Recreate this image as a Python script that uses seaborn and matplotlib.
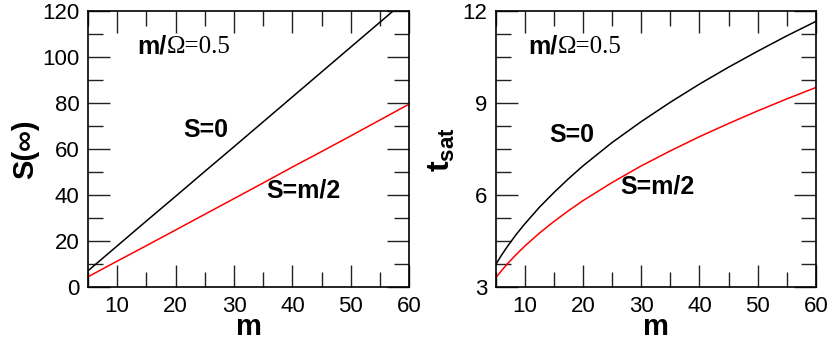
import numpy as np
import pandas as pd
import matplotlib
matplotlib.use('Agg')
import matplotlib.pyplot as plt
from matplotlib.ticker import MultipleLocator
import seaborn as sns

# values
m_left = [5, 10, 15, 20, 25, 30, 35, 40, 45, 50, 55, 60]
s_zero = [7.2, 18.0, 28.8, 39.5, 50.3, 61.0, 71.8, 82.6, 93.4, 104.2, 115.0, 125.8]
s_half = [4.6, 11.4, 18.1, 24.9, 31.7, 38.5, 45.3, 52.2, 58.9, 65.7, 72.6, 79.5]

m_right = [5, 6, 7, 8.5, 10, 12.5, 15, 17.5, 20, 25, 30, 35, 40, 45, 50, 55, 60]
t_zero = [3.73, 4.04, 4.32, 4.71, 5.06, 5.60, 6.08, 6.53, 6.95, 7.71, 8.39,
          9.02, 9.61, 10.16, 10.68, 11.18, 11.65]
t_half = [3.30, 3.54, 3.76, 4.06, 4.34, 4.76, 5.14, 5.49, 5.82, 6.41, 6.95,
          7.44, 7.90, 8.33, 8.74, 9.13, 9.50]

sns.set_theme(style='ticks')
plt.rcParams['font.family'] = ['Liberation Sans', 'DejaVu Sans']
plt.rcParams['text.color'] = 'black'
plt.rcParams['axes.labelcolor'] = 'black'
plt.rcParams['mathtext.fontset'] = 'custom'
plt.rcParams['mathtext.rm'] = 'Liberation Sans'
plt.rcParams['mathtext.bf'] = 'Liberation Sans:bold'

fig = plt.figure(figsize=(8.3, 3.43), dpi=100)
ax1 = fig.add_axes([0.106, 0.162, 0.387, 0.807])
ax2 = fig.add_axes([0.597, 0.162, 0.386, 0.807])

left = pd.DataFrame({'m': m_left, 'S0': s_zero, 'Sh': s_half})
right = pd.DataFrame({'m': m_right, 'T0': t_zero, 'Th': t_half})

sns.lineplot(data=left, x='m', y='S0', color='black', lw=1.1, ax=ax1)
sns.lineplot(data=left, x='m', y='Sh', color='red', lw=1.1, ax=ax1)
sns.lineplot(data=right, x='m', y='T0', color='black', lw=1.1, ax=ax2)
sns.lineplot(data=right, x='m', y='Th', color='red', lw=1.1, ax=ax2)

ax1.set_xlim(5, 60)
ax1.set_ylim(0, 120)
ax1.yaxis.set_major_locator(MultipleLocator(20))
ax1.yaxis.set_minor_locator(MultipleLocator(10))
ax2.set_xlim(5, 60)
ax2.set_ylim(3, 12)
ax2.yaxis.set_major_locator(MultipleLocator(3))
ax2.yaxis.set_minor_locator(MultipleLocator(0.75))

for ax in (ax1, ax2):
    ax.xaxis.set_major_locator(MultipleLocator(10))
    ax.xaxis.set_minor_locator(MultipleLocator(5))
    ax.tick_params(which='both', direction='in', top=True, right=True,
                   width=1.0, color='#222222', labelcolor='black')
    ax.tick_params(which='major', length=16, labelsize=16, pad=6)
    ax.tick_params(which='minor', length=11)
    for sp in ax.spines.values():
        sp.set_linewidth(1.2)
        sp.set_color('black')
    ax.set_xlabel('m', fontsize=21, fontweight='bold', labelpad=-3)

ax1.set_ylabel('S(∞)', fontsize=21, fontweight='bold', labelpad=2)
ax2.set_ylabel(r'$\mathbf{t_{sat}}$', fontsize=23, labelpad=4)

# annotations
for ax, xs in ((ax1, 137), (ax2, 528)):
    t1 = fig.text(xs / 830, 1 - 47 / 343, 'm/', fontsize=18, fontweight='bold',
                  va='center', ha='left')
    ax.annotate('Ω=0.5', xy=(1, 0.5), xycoords=t1, va='center', ha='left',
                fontsize=18, family='Liberation Serif')

fig.text(206 / 830, 1 - 130 / 343, 'S=0', fontsize=18, fontweight='bold', ha='center', va='center')
fig.text(303 / 830, 1 - 190 / 343, 'S=m/2', fontsize=18, fontweight='bold', ha='center', va='center')
fig.text(572 / 830, 1 - 135 / 343, 'S=0', fontsize=18, fontweight='bold', ha='center', va='center')
fig.text(657 / 830, 1 - 187 / 343, 'S=m/2', fontsize=18, fontweight='bold', ha='center', va='center')

fig.savefig('out.png', dpi=100)
